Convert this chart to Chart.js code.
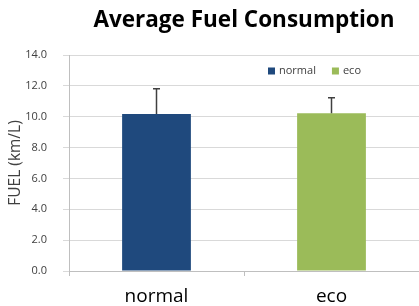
<!DOCTYPE html>
<html lang="en">
<head>
    <meta charset="UTF-8">
    <title>Average Fuel Consumption</title>
    <script src="https://cdn.jsdelivr.net/npm/chart.js"></script>
    <style>
        html, body {
            margin: 0;
            padding: 0;
            background: #ffffff;
        }
        #wrap {
            position: relative;
            width: 419px;
            height: 306px;
        }
    </style>
</head>
<body>
    <div id="wrap">
        <canvas id="fuelChart" width="419" height="306"></canvas>
    </div>
    <script>
        const chartTitle = 'Average Fuel Consumption';
        const yAxisTitle = 'FUEL (km/L)';
        const categories = ['normal', 'eco'];
        const meanFuel = [10.17, 10.22];
        const errorFuel = [1.64, 1.01];
        const barColors = ['#1f497d', '#9bbb59'];
        const yMin = 0;
        const yMax = 14;
        const yStep = 2;

        const FONT = "'Open Sans', 'DejaVu Sans', sans-serif";

        // one dataset per category so the legend shows both colours
        const datasets = categories.map((cat, i) => ({
            label: cat,
            data: categories.map((c, j) => (j === i ? meanFuel[i] : null)),
            backgroundColor: barColors[i],
            borderColor: barColors[i],
            borderWidth: 0,
            errors: categories.map((c, j) => (j === i ? errorFuel[i] : null))
        }));

        // error bars (upper half only) drawn with the chart's own scales
        const errorBarPlugin = {
            id: 'errorBars',
            afterDatasetsDraw(chart) {
                const ctx = chart.ctx;
                const x = chart.scales.x;
                const y = chart.scales.y;
                ctx.save();
                ctx.strokeStyle = '#404040';
                ctx.lineWidth = 1.5;
                chart.data.datasets.forEach(ds => {
                    ds.data.forEach((v, j) => {
                        if (v === null) return;
                        const px = x.getPixelForValue(j);
                        const top = y.getPixelForValue(v + ds.errors[j]);
                        const base = y.getPixelForValue(v);
                        ctx.beginPath();
                        ctx.moveTo(px, base);
                        ctx.lineTo(px, top);
                        ctx.moveTo(px - 3.5, top);
                        ctx.lineTo(px + 3.5, top);
                        ctx.stroke();
                    });
                });
                ctx.restore();
            }
        };

        // title centred over the plot area, legend inside top right
        const titleLegendPlugin = {
            id: 'titleLegend',
            afterDraw(chart) {
                const ctx = chart.ctx;
                const area = chart.chartArea;
                ctx.save();
                ctx.fillStyle = '#000000';
                ctx.font = "bold 22.5px " + FONT;
                ctx.textAlign = 'center';
                ctx.textBaseline = 'middle';
                ctx.fillText(chartTitle, (area.left + area.right) / 2, 21);

                ctx.font = "11px " + FONT;
                ctx.textAlign = 'left';
                let lx = 268;
                const ly = 71;
                chart.data.datasets.forEach(ds => {
                    ctx.fillStyle = ds.backgroundColor;
                    ctx.fillRect(lx, ly - 3.5, 7, 7);
                    ctx.fillStyle = '#404040';
                    ctx.fillText(ds.label, lx + 11, ly);
                    lx += 11 + ctx.measureText(ds.label).width + 16;
                });
                ctx.restore();
            }
        };

        const ctx = document.getElementById('fuelChart').getContext('2d');
        const fuelChart = new Chart(ctx, {
            type: 'bar',
            data: {
                labels: categories,
                datasets: datasets
            },
            options: {
                responsive: false,
                animation: false,
                layout: {
                    padding: { top: 55, right: -6, left: 0, bottom: 0 }
                },
                datasets: {
                    bar: {
                        grouped: false,
                        categoryPercentage: 1.0,
                        barPercentage: 0.393
                    }
                },
                plugins: {
                    legend: { display: false },
                    title: { display: false },
                    tooltip: { enabled: false }
                },
                scales: {
                    x: {
                        offset: true,
                        grid: {
                            offset: true,
                            drawOnChartArea: false,
                            color: '#bfbfbf',
                            tickLength: 5
                        },
                        border: { color: '#bfbfbf' },
                        ticks: {
                            color: '#000000',
                            padding: 9,
                            font: { family: FONT, size: 19 }
                        },
                        afterFit(scale) { scale.height = 35; }
                    },
                    y: {
                        min: yMin,
                        max: yMax,
                        grid: {
                            color: '#d9d9d9',
                            tickLength: 6
                        },
                        border: { color: '#bfbfbf' },
                        ticks: {
                            stepSize: yStep,
                            color: '#404040',
                            padding: 16,
                            font: { family: FONT, size: 11 },
                            callback: v => Number(v).toFixed(1)
                        },
                        title: {
                            display: true,
                            text: yAxisTitle,
                            color: '#404040',
                            padding: { top: 6, bottom: 0 },
                            font: { family: FONT, size: 15.5 }
                        },
                        afterFit(scale) { scale.width = 69; }
                    }
                }
            },
            plugins: [errorBarPlugin, titleLegendPlugin]
        });
    </script>
</body>
</html>
